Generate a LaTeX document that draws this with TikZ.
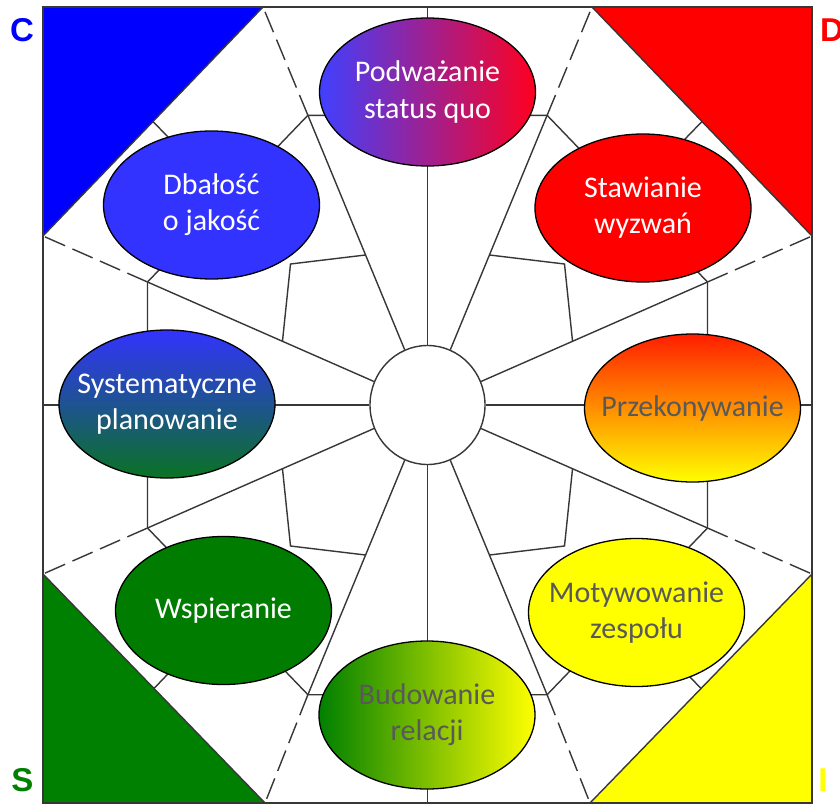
\documentclass[tikz,border=0pt]{standalone}
\usepackage{fontspec}
\setmainfont{Carlito}
\newfontfamily\letterfont{Liberation Sans}
\usetikzlibrary{shapes.geometric}
\definecolor{ln}{RGB}{55,55,55}
\definecolor{cblue}{RGB}{0,0,255}
\definecolor{cred}{RGB}{255,0,0}
\definecolor{cgreen}{RGB}{0,128,0}
\definecolor{cyellow}{RGB}{255,255,0}
\definecolor{ovblue}{RGB}{51,51,255}
\definecolor{ovred}{RGB}{255,0,0}
\definecolor{ovgreen}{RGB}{0,125,0}
\definecolor{podl}{RGB}{64,64,255}
\definecolor{podr}{RGB}{255,0,32}
\definecolor{przt}{RGB}{255,30,0}
\definecolor{przm}{RGB}{255,160,0}
\definecolor{sysb}{RGB}{10,115,35}
\definecolor{txtgray}{RGB}{89,89,89}
\begin{document}
\begin{tikzpicture}[x=1pt,y=-1pt,
  wire/.style={draw=ln, line width=1.4pt},
  dashwire/.style={wire, dash pattern=on 22pt off 8pt},
  oval/.style={ellipse, draw=black, line width=1.3pt, minimum width=216pt, minimum height=148pt, inner sep=0pt},
  wtxt/.style={text=white, align=center, font=\fontsize{30}{36}\selectfont, inner sep=0pt},
  gtxt/.style={wtxt, text=txtgray},
  letter/.style={font=\letterfont\bfseries\fontsize{33}{33}\selectfont, inner sep=0pt}]

\useasboundingbox (0,0) rectangle (840,803);
\fill[white] (0,0) rectangle (840,803);

% octagon vertices (on the frame)
\coordinate (O1) at (263,7);
\coordinate (O2) at (592,7);
\coordinate (O3) at (812,236);
\coordinate (O4) at (812,574);
\coordinate (O5) at (590,803);
\coordinate (O6) at (265,803);
\coordinate (O7) at (43,574);
\coordinate (O8) at (43,236);
% outer ring
\coordinate (R1) at (307.9,115.3);
\coordinate (R2) at (547.1,115.3);
\coordinate (R3) at (707.5,282);
\coordinate (R4) at (707.5,528);
\coordinate (R5) at (547.1,694.7);
\coordinate (R6) at (307.9,694.7);
\coordinate (R7) at (147.5,528);
\coordinate (R8) at (147.5,282);
% inner ring points
\coordinate (I1) at (365.5,255);
\coordinate (I2) at (489.5,255);
\coordinate (I3) at (572.5,341);
\coordinate (I4) at (572.5,469);
\coordinate (I5) at (489.5,555);
\coordinate (I6) at (365.5,555);
\coordinate (I7) at (282.5,469);
\coordinate (I8) at (282.5,341);
\coordinate (K1) at (290.5,264);
\coordinate (K2) at (564.5,264);
\coordinate (K3) at (564.5,546);
\coordinate (K4) at (290.5,546);
% cardinal ends
\coordinate (T) at (427.5,7);
\coordinate (B) at (427.5,803);
\coordinate (L) at (43,405);
\coordinate (Rt) at (812,405);
% diagonal spokes
\coordinate (D1o) at (153,121.5);
\coordinate (D1r) at (227.6,198.7);
\coordinate (D2o) at (702,121.5);
\coordinate (D2r) at (627.3,198.7);
\coordinate (D3o) at (701,688.5);
\coordinate (D3r) at (627.3,611.3);
\coordinate (D4o) at (154,688.5);
\coordinate (D4r) at (227.7,611.3);

% corner triangles
\fill[cblue] (43,7) -- (O1) -- (O8) -- cycle;
\fill[cred] (812,7) -- (O2) -- (O3) -- cycle;
\fill[cyellow] (812,803) -- (O4) -- (O5) -- cycle;
\fill[cgreen] (43,803) -- (O6) -- (O7) -- cycle;
\draw[wire] (O1) -- (O8);
\draw[wire] (O2) -- (O3);
\draw[wire] (O4) -- (O5);
\draw[wire] (O6) -- (O7);
\draw[wire] (43,7) rectangle (812,803);

% hub
\node[ellipse, wire, fill=white, minimum width=115pt, minimum height=119pt, inner sep=0pt] (hub) at (427.5,405) {};

% spokes
\foreach \k in {1,...,8} {
  \draw[wire] (hub) -- (R\k);
  \draw[dashwire] (R\k) -- (O\k);
}
\draw[wire] (hub) -- (T);
\draw[wire] (hub) -- (B);
\draw[wire] (hub) -- (L);
\draw[wire] (hub) -- (Rt);

% outer ring
\draw[wire] (R1) -- (R2) -- (R3) -- (R4) -- (R5) -- (R6) -- (R7) -- (R8) -- cycle;
% inner corner pieces
\draw[wire] (I1) -- (K1) -- (I8);
\draw[wire] (I2) -- (K2) -- (I3);
\draw[wire] (I4) -- (K3) -- (I5);
\draw[wire] (I6) -- (K4) -- (I7);
% diagonal spokes
\draw[wire] (D1o) -- (D1r);
\draw[wire] (D2o) -- (D2r);
\draw[wire] (D3o) -- (D3r);
\draw[wire] (D4o) -- (D4r);

% ellipses
\node[oval, left color=podl, right color=podr] (pod) at (427.5,92) {};
\node[wtxt] (podt) at (pod) {Podważanie\\status quo};
\node[oval, fill=ovred] (sta) at (643,208) {};
\node[wtxt] (stat) at (sta) {Stawianie\\wyzwań};
\node[oval, top color=przt, middle color=przm, bottom color=cyellow] (prz) at (692.5,408) {};
\node[gtxt] (przt) at (prz) {Przekonywanie};
\node[oval, fill=cyellow] (mot) at (636.5,612.5) {};
\node[gtxt] (mott) at (mot) {Motywowanie\\zespołu};
\node[oval, left color=cgreen, right color=cyellow] (bud) at (427,715) {};
\node[gtxt] (budt) at (bud) {Budowanie\\relacji};
\node[oval, fill=ovgreen] (wsp) at (223.5,610.5) {};
\node[wtxt] (wspt) at (wsp) {Wspieranie};
\node[oval, top color=ovblue, bottom color=sysb] (sys) at (167,404) {};
\node[wtxt] (syst) at (sys) {Systematyczne\\planowanie};
\node[oval, fill=ovblue] (dba) at (211.5,205) {};
\node[wtxt] (dbat) at (dba) {Dbałość\\o jakość};

% letters
\node[letter, text=cblue] (lc) at (22,30) {C};
\node[letter, text=cred] (ld) at (832,30) {D};
\node[letter, text=cgreen] (ls) at (22.5,780) {S};
\node[letter, text=cyellow] (li) at (823,780) {I};
\end{tikzpicture}
\end{document}
